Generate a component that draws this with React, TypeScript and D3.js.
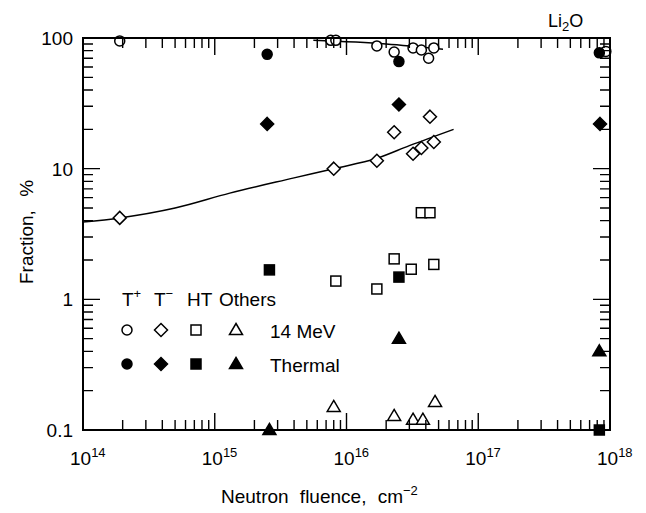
import React from "react";
import * as d3 from "d3";

const width = 646;
const height = 513;
const margin = { top: 38, left: 83, bottom: 83, right: 36 };

// T+ (circles)
const tPlus14Fluence = [1.9e14, 7.6e15, 8.3e15, 1.7e16, 2.3e16, 3.2e16, 3.7e16, 4.2e16, 4.6e16, 9.3e17];
const tPlus14Fraction = [95, 96, 96, 87, 78, 84, 81, 70, 84, 79];
const tPlusThFluence = [2.5e15, 2.5e16, 8.3e17];
const tPlusThFraction = [75, 66, 77];

// T- (diamonds)
const tMinus14Fluence = [1.9e14, 8e15, 1.7e16, 2.3e16, 3.2e16, 3.7e16, 4.3e16, 4.6e16];
const tMinus14Fraction = [4.2, 10, 11.5, 19, 13, 14.4, 25, 16];
const tMinusThFluence = [2.5e15, 2.5e16, 8.4e17];
const tMinusThFraction = [22, 31, 22];

// HT (squares)
const ht14Fluence = [8.3e15, 1.7e16, 2.3e16, 3.1e16, 3.7e16, 4.3e16, 4.6e16];
const ht14Fraction = [1.38, 1.2, 2.04, 1.7, 4.6, 4.6, 1.85];
const htThFluence = [2.6e15, 2.5e16, 8.3e17];
const htThFraction = [1.68, 1.48, 0.1];

// Others (triangles)
const oth14Fluence = [8e15, 2.3e16, 3.2e16, 3.8e16, 4.7e16];
const oth14Fraction = [0.15, 0.128, 0.12, 0.12, 0.164];
const othThFluence = [2.6e15, 2.5e16, 8.3e17];
const othThFraction = [0.1, 0.5, 0.4];

// fitted curves
const curvePlusFluence = [5.6e15, 2e16, 5.4e16];
const curvePlusFraction = [96, 90, 82];
const curveMinusFluence = [1e14, 1.9e14, 5e14, 1.3e15, 4e15, 8e15, 1.7e16, 3e16, 6.5e16];
const curveMinusFraction = [3.9, 4.2, 5.0, 6.5, 8.5, 10, 12, 15, 20];

const xTickLabels = ["14", "15", "16", "17", "18"];
const yTickLabels = ["0.1", "1", "10", "100"];

const font = "'Liberation Sans', Arial, Helvetica, sans-serif";

type Shape = "circle" | "diamond" | "square" | "triangle";

const Marker = ({ shape, filled, cx, cy }: { shape: Shape; filled: boolean; cx: number; cy: number }) => {
  const fill = filled ? "#000" : "#fff";
  const common = { fill, stroke: "#000", strokeWidth: 1.5 };
  if (shape === "circle") return <circle cx={cx} cy={cy} r={5} {...common} />;
  if (shape === "square") return <rect x={cx - 5} y={cy - 5} width={10} height={10} {...common} />;
  if (shape === "diamond")
    return <path d={`M${cx},${cy - 6.5}L${cx + 6.5},${cy}L${cx},${cy + 6.5}L${cx - 6.5},${cy}Z`} {...common} />;
  return <path d={`M${cx},${cy - 6.5}L${cx + 6.5},${cy + 4.5}L${cx - 6.5},${cy + 4.5}Z`} {...common} />;
};

const x = d3.scaleLog().domain([1e14, 1e18]).range([margin.left, width - margin.right]);
const y = d3.scaleLog().domain([0.1, 100]).range([height - margin.bottom, margin.top]);

const App = () => {
  const x0 = margin.left;
  const x1 = width - margin.right;
  const y0 = height - margin.bottom;
  const y1 = margin.top;

  const xticks = x.ticks(20);
  const yticks = y.ticks(20);
  const lenFor = (v: number) => {
    const l = Math.log10(v);
    return Math.abs(l - Math.round(l)) < 1e-6 ? 17 : 10;
  };

  let tickPath = "";
  for (const t of xticks) {
    const px = x(t);
    const len = lenFor(t);
    tickPath += "M" + px + "," + y0 + "V" + (y0 - len);
    tickPath += "M" + px + "," + y1 + "V" + (y1 + len);
  }
  for (const t of yticks) {
    const py = y(t);
    const len = lenFor(t);
    tickPath += "M" + x0 + "," + py + "H" + (x0 + len);
    tickPath += "M" + x1 + "," + py + "H" + (x1 - len);
  }

  const line = d3
    .line<[number, number]>()
    .x((d) => x(d[0]))
    .y((d) => y(d[1]))
    .curve(d3.curveMonotoneX);

  const plusPts = curvePlusFluence.map((v, i) => [v, curvePlusFraction[i]] as [number, number]);
  const minusPts = curveMinusFluence.map((v, i) => [v, curveMinusFraction[i]] as [number, number]);

  const series: { fl: number[]; fr: number[]; shape: Shape; filled: boolean }[] = [
    { fl: tPlus14Fluence, fr: tPlus14Fraction, shape: "circle", filled: false },
    { fl: tMinus14Fluence, fr: tMinus14Fraction, shape: "diamond", filled: false },
    { fl: ht14Fluence, fr: ht14Fraction, shape: "square", filled: false },
    { fl: oth14Fluence, fr: oth14Fraction, shape: "triangle", filled: false },
    { fl: tPlusThFluence, fr: tPlusThFraction, shape: "circle", filled: true },
    { fl: tMinusThFluence, fr: tMinusThFraction, shape: "diamond", filled: true },
    { fl: htThFluence, fr: htThFraction, shape: "square", filled: true },
    { fl: othThFluence, fr: othThFraction, shape: "triangle", filled: true },
  ];

  const legendShapes: Shape[] = ["circle", "diamond", "square", "triangle"];
  const legendX = [127, 161, 196, 236];

  return (
    <svg width={width} height={height} style={{ position: "absolute", left: 0, top: 0 }}>
      {/* curves */}
      <path d={line(plusPts) || ""} fill="none" stroke="#000" strokeWidth={1.5} />
      <path d={line(minusPts) || ""} fill="none" stroke="#000" strokeWidth={1.5} />

      {/* markers */}
      {series.map((s, si) =>
        s.fl.map((v, i) => <Marker key={si + "-" + i} shape={s.shape} filled={s.filled} cx={x(v)} cy={y(s.fr[i])} />)
      )}

      <g fontFamily={font}>
        {/* tick labels */}
        {xTickLabels.map((lab) => {
          const px = x(Math.pow(10, +lab));
          return (
            <text key={lab} x={px - 13} y={465} fontSize={19}>
              10<tspan dy={-8} fontSize={13}>{lab}</tspan>
            </text>
          );
        })}
        {yTickLabels.map((lab) => (
          <text key={lab} x={73} y={y(+lab) + 7} fontSize={19} textAnchor="end">
            {lab}
          </text>
        ))}

        {/* axis titles */}
        <text x={221} y={503} fontSize={19} wordSpacing={6}>
          Neutron fluence, cm<tspan dy={-8} fontSize={13}>−2</tspan>
        </text>
        <text transform="translate(33,232) rotate(-90)" fontSize={19} textAnchor="middle" wordSpacing={8}>
          Fraction, %
        </text>

        {/* title */}
        <text x={548} y={27} fontSize={18}>
          Li<tspan dy={4} fontSize={13}>2</tspan><tspan dy={-4}>O</tspan>
        </text>

        {/* legend */}
        <text x={122} y={306} fontSize={19}>
          T<tspan dy={-8} fontSize={13}>+</tspan>
        </text>
        <text x={154} y={306} fontSize={19}>
          T<tspan dy={-8} fontSize={13}>−</tspan>
        </text>
        <text x={187} y={306} fontSize={19}>HT</text>
        <text x={219} y={306} fontSize={19}>Others</text>
        <text x={270} y={338} fontSize={19}>14 MeV</text>
        <text x={270} y={372} fontSize={19}>Thermal</text>
      </g>
      {legendShapes.map((sh, i) => (
        <g key={sh}>
          <Marker shape={sh} filled={false} cx={legendX[i]} cy={330} />
          <Marker shape={sh} filled={true} cx={legendX[i]} cy={364} />
        </g>
      ))}

      {/* frame and ticks, drawn last */}
      <rect x={x0} y={y1} width={x1 - x0} height={y0 - y1} fill="none" stroke="#000" strokeWidth={2} />
      <path d={tickPath} fill="none" stroke="#000" strokeWidth={1.4} />
    </svg>
  );
};

export default App;
